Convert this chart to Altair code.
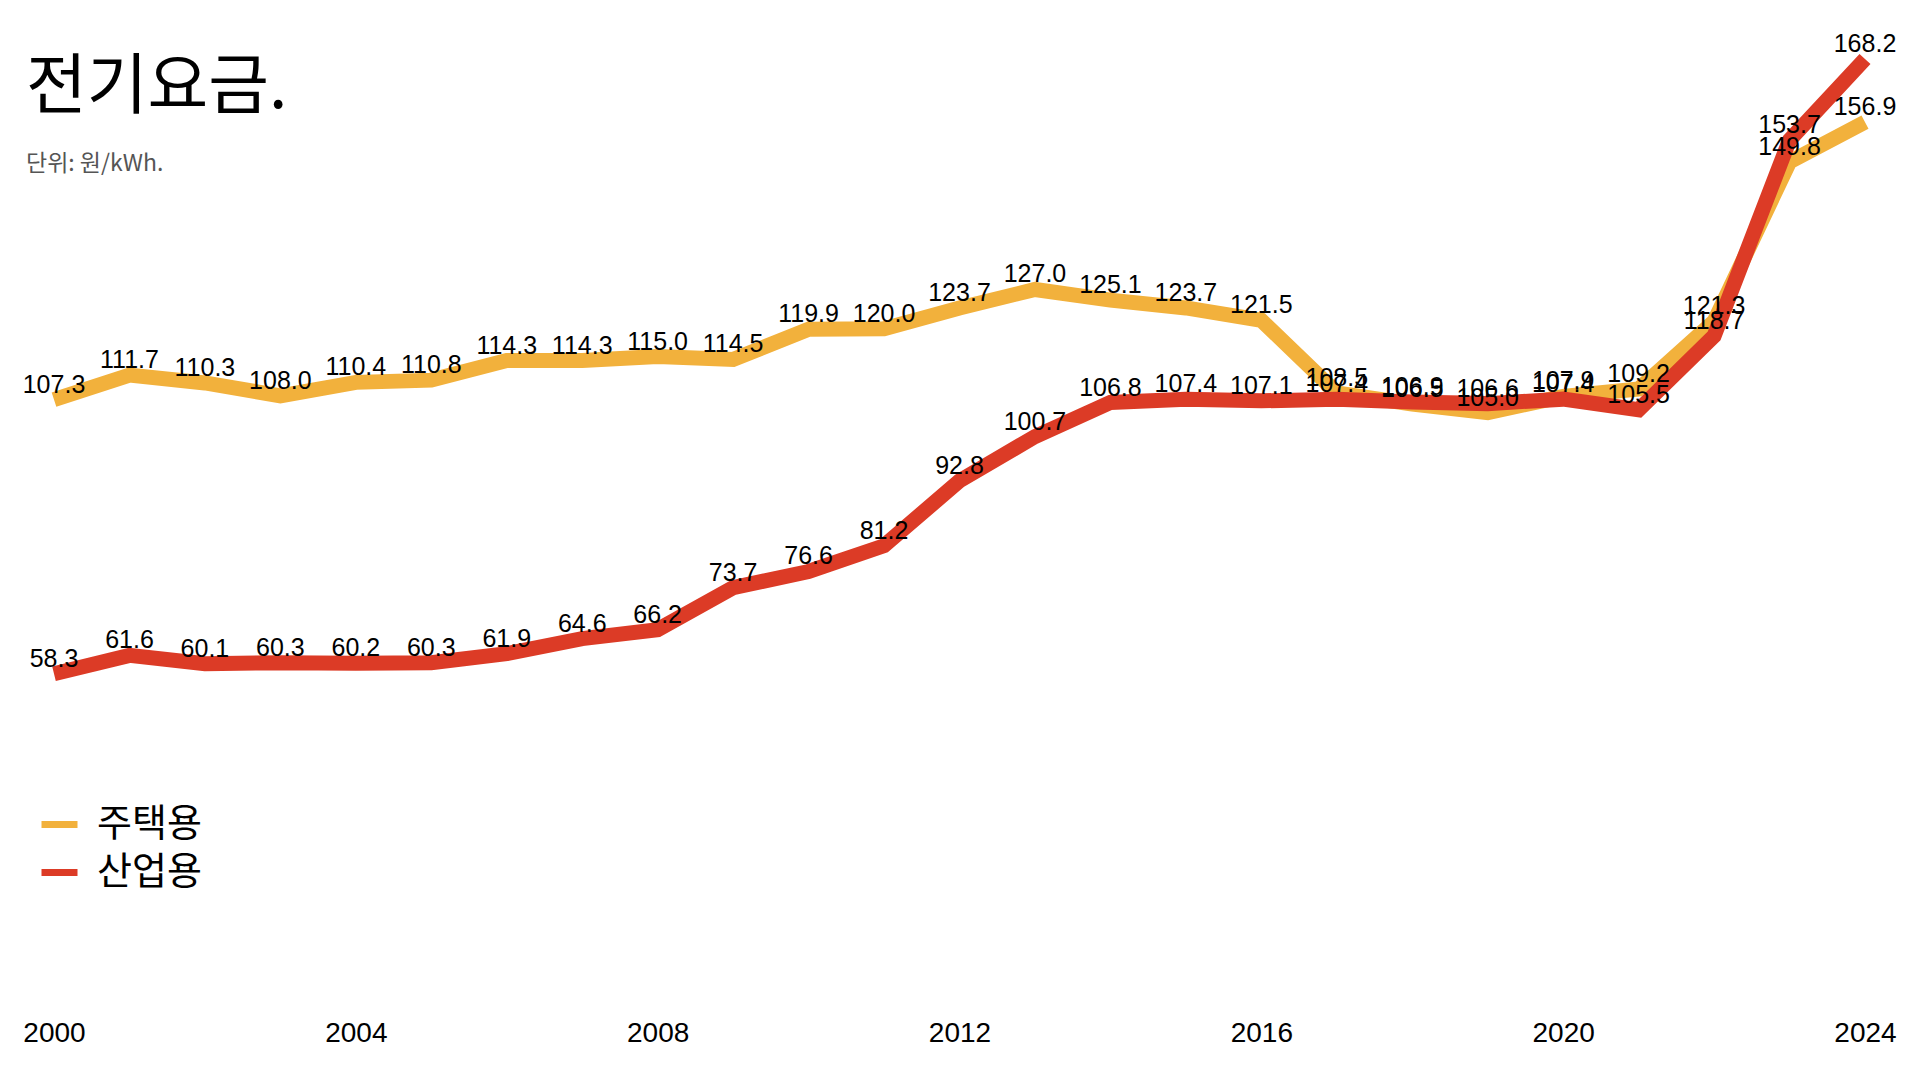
import altair as alt
import pandas as pd

years = list(range(2000, 2025))
residential = [107.3, 111.7, 110.3, 108.0, 110.4, 110.8, 114.3, 114.3, 115.0, 114.5,
               119.9, 120.0, 123.7, 127.0, 125.1, 123.7, 121.5, 108.5, 106.5, 105.0,
               107.9, 109.2, 121.3, 149.8, 156.9]
industrial = [58.3, 61.6, 60.1, 60.3, 60.2, 60.3, 61.9, 64.6, 66.2, 73.7,
              76.6, 81.2, 92.8, 100.7, 106.8, 107.4, 107.1, 107.4, 106.9, 106.6,
              107.4, 105.5, 118.7, 153.7, 168.2]
series_names = ["주택용", "산업용"]
series_colors = ["#F2B13C", "#DC3B26"]
x_ticks = [2000, 2004, 2008, 2012, 2016, 2020, 2024]

rows = []
for name, vals in zip(series_names, [residential, industrial]):
    for y, v in zip(years, vals):
        rows.append({"year": y, "value": v, "series": name})
df = pd.DataFrame(rows)

x_enc = alt.X("year:Q",
              scale=alt.Scale(domain=[2000, 2024], nice=False, zero=False),
              axis=alt.Axis(values=x_ticks, format="d", title=None, grid=False,
                            domain=False, ticks=False, labelPadding=19, labelFlush=False,
                            labelFontSize=28, labelFont="Liberation Sans",
                            labelColor="black"))
y_enc = alt.Y("value:Q", scale=alt.Scale(domain=[0, 168.2], nice=False), axis=None)

lines = alt.Chart(df).mark_line(strokeWidth=15).encode(
    x=x_enc,
    y=y_enc,
    color=alt.Color("series:N",
                    scale=alt.Scale(domain=series_names, range=series_colors),
                    sort=series_names,
                    legend=alt.Legend(title=None, orient="none", legendX=-16, legendY=744,
                                      symbolType="stroke", symbolSize=1296,
                                      symbolStrokeWidth=7, labelFontSize=38,
                                      labelFont="Noto Sans CJK KR", labelColor="black",
                                      labelOffset=16, rowPadding=7, padding=0)),
    detail="series:N",
)

labels = alt.Chart(df).mark_text(font="Liberation Sans", fontSize=25, color="black",
                                 baseline="middle", dy=-15).encode(
    x=alt.X("year:Q"),
    y=alt.Y("value:Q"),
    text=alt.Text("value:Q", format=".1f"),
)

chart = alt.layer(lines, labels).properties(
    width=1811,
    height=941,
    title=alt.Title("전기요금.", subtitle="단위: 원/kWh.", anchor="start", frame="group",
                    fontSize=66, font="Noto Sans CJK KR", fontWeight="normal",
                    color="black", subtitleFontSize=23, subtitleColor="#555555",
                    subtitleFont="Noto Sans CJK KR", subtitlePadding=31,
                    offset=-148, dx=-28),
    autosize=alt.AutoSizeParams(type="none"),
    padding={"left": 46, "top": 51, "right": 47, "bottom": 60},
).configure_view(stroke=None)

chart.save("out.html", embed_options={"renderer": "svg", "actions": False})
